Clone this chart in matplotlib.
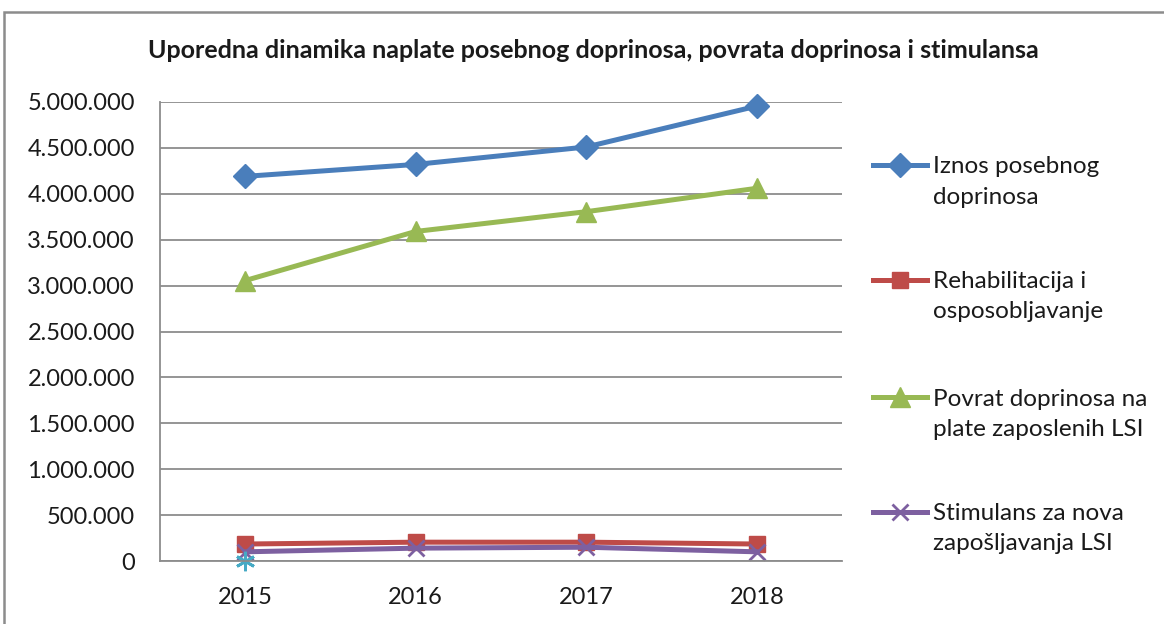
import matplotlib.pyplot as plt
from matplotlib.lines import Line2D
from matplotlib.patches import Rectangle
from matplotlib.ticker import FuncFormatter
import numpy as np

plt.rcParams['font.family'] = ['Lato', 'DejaVu Sans']

# Data
years = ["2015", "2016", "2017", "2018"]
iznos = [4190000, 4320000, 4510000, 4955000]
rehab = [185000, 205000, 205000, 185000]
povrat = [3055000, 3590000, 3805000, 4060000]
stimulans = [100000, 140000, 150000, 100000]
extra = [0, np.nan, np.nan, np.nan]

labels = ["Iznos posebnog\ndoprinosa",
          "Rehabilitacija i\nosposobljavanje",
          "Povrat doprinosa na\nplate zaposlenih LSI",
          "Stimulans za nova\nzapošljavanja LSI"]

colors = ["#4A7EBB", "#BE4B48", "#98B954", "#7D60A0"]
markers = ["D", "s", "^", "x"]
msizes = [12, 12, 14, 12]

W, H = 1164, 624
fig = plt.figure(figsize=(W / 100, H / 100), dpi=100)

# outer chart border (only top/left visible)
fig.add_artist(Rectangle((4 / W, -0.1), 1.2, 1 - 12 / H + 0.1, transform=fig.transFigure,
                         fill=False, edgecolor="#8c8c8c", linewidth=1.8))

ax = fig.add_axes([160 / W, 1 - 561 / H, (842 - 160) / W, (561 - 102) / H])
x = np.arange(len(years))

series = [iznos, rehab, povrat, stimulans]
for vals, c, m, ms in zip(series, colors, markers, msizes):
    ax.plot(x, vals, color=c, linewidth=3.6, marker=m, markersize=ms,
            markeredgewidth=2 if m == "x" else 1, markeredgecolor=c, clip_on=False)
ax.plot(x, extra, color="#46AAC5", linestyle="none", marker=(6, 2, 0), markersize=14,
        markeredgewidth=2, clip_on=False)

ax.set_xlim(-0.5, len(years) - 0.5)
ax.set_ylim(0, 5000000)
ax.set_yticks(np.arange(0, 5000001, 500000))
ax.yaxis.set_major_formatter(FuncFormatter(lambda v, p: f"{int(v):,}".replace(",", ".")))
ax.set_xticks(x)
ax.set_xticklabels(years)
ax.tick_params(axis="both", length=0, labelsize=17, colors="#1a1a1a")
ax.tick_params(axis="y", pad=18)
ax.tick_params(axis="x", pad=19)
ax.grid(axis="y", color="#8c8c8c", linewidth=1.3)
ax.set_axisbelow(True)
for s in ["top", "right"]:
    ax.spines[s].set_visible(False)
for s in ["left", "bottom"]:
    ax.spines[s].set_color("#8c8c8c")
    ax.spines[s].set_linewidth(1.3)

fig.text(593 / W, 1 - 50 / H, "Uporedna dinamika naplate posebnog doprinosa, povrata doprinosa i stimulansa",
         ha="center", va="center", fontsize=18, fontweight="bold", color="#1a1a1a")

# legend drawn by hand so the handle sits on the first text line
leg_y = [165, 280, 397, 512]
for y, lab, c, m, ms in zip(leg_y, labels, colors, markers, msizes):
    yf = 1 - y / H
    fig.add_artist(Line2D([873 / W, 927 / W], [yf, yf], transform=fig.transFigure,
                          color=c, linewidth=3.6))
    fig.add_artist(Line2D([900 / W], [yf], transform=fig.transFigure, color=c,
                          marker=m, markersize=ms, markeredgecolor=c,
                          markeredgewidth=2 if m == "x" else 1))
    for i, part in enumerate(lab.split("\n")):
        fig.text(933 / W, 1 - (y + 30 * i) / H, part, ha="left", va="center_baseline",
                 fontsize=17.5, color="#1a1a1a")

fig.savefig("out.png", dpi=100)
